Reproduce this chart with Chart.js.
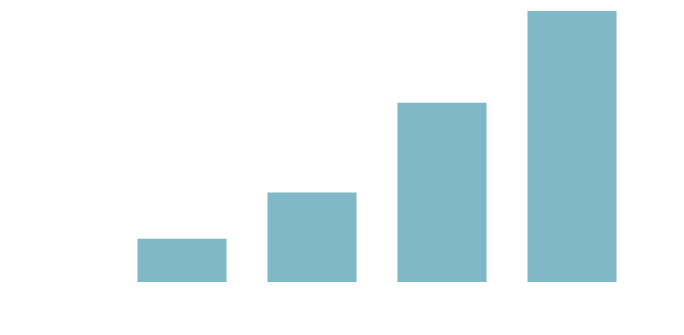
<!DOCTYPE html>
<html>
<head>
<meta charset="utf-8">
<script src="https://cdn.jsdelivr.net/npm/chart.js@4"></script>
<style>
html,body{margin:0;padding:0;background:#fff;}
#wrap{width:684px;height:335px;position:relative;}
</style>
</head>
<body>
<div id="wrap"><canvas id="c"></canvas></div>
<script>
const categories = ["A", "B", "C", "D"];
const values = [43.3, 89.5, 179.3, 271];
const yMax = 271;

new Chart(document.getElementById('c'), {
  type: 'bar',
  data: {
    labels: categories,
    datasets: [{
      data: values,
      backgroundColor: '#7fb8c6',
      borderWidth: 0,
      categoryPercentage: 1,
      barPercentage: 0.685
    }]
  },
  options: {
    responsive: true,
    maintainAspectRatio: false,
    animation: false,
    layout: { padding: { left: 117, right: 47, top: 11, bottom: 53 } },
    plugins: { legend: { display: false }, tooltip: { enabled: false } },
    scales: {
      x: { display: false },
      y: { display: false, min: 0, max: yMax }
    }
  }
});
</script>
</body>
</html>
